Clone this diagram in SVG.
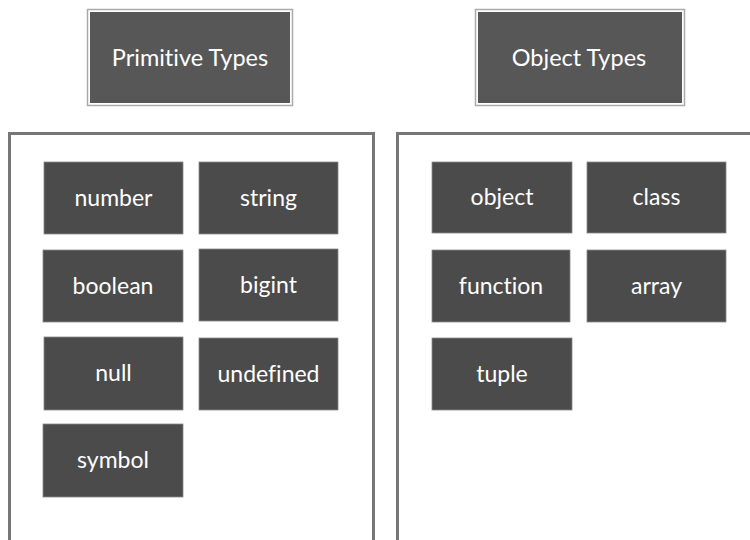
<svg xmlns="http://www.w3.org/2000/svg" width="750" height="540" viewBox="0 0 750 540">
<style>
.hdr-out{fill:#fff;stroke:#aaa;stroke-width:1.5}
.hdr{fill:#575757}
.hdr-t{fill:#fff;font-family:Lato,"Noto Sans",sans-serif;font-size:23.5px;text-anchor:middle;dominant-baseline:central;font-variant-ligatures:none}
.cont{fill:none;stroke:#777;stroke-width:3}
.box{fill:#4b4b4b;stroke:#888;stroke-width:0.8}
.t{fill:#fff;font-family:Lato,"Noto Sans",sans-serif;font-size:23px;text-anchor:middle;dominant-baseline:central;font-variant-ligatures:none}
</style>
<rect width="750" height="540" fill="#fff"/>
<g id="prim-header">
<rect class="hdr-out" x="87.5" y="9.5" width="205" height="96"/>
<rect class="hdr" x="90" y="12" width="200" height="91"/>
<text class="hdr-t" x="190" y="57">Primitive Types</text>
</g>
<g id="obj-header">
<rect class="hdr-out" x="475.5" y="9.5" width="209" height="96"/>
<rect class="hdr" x="478" y="12" width="204" height="91"/>
<text class="hdr-t" x="579" y="57">Object Types</text>
</g>
<g id="prim-container">
<path class="cont" d="M9.5 545 V133.5 H373.5 V545"/>
</g>
<g id="obj-container">
<path class="cont" d="M397.5 545 V133.5 H755"/>
</g>
<g id="number"><rect class="box" x="44" y="162" width="139" height="72"/><text class="t" x="113.5" y="197">number</text></g>
<g id="string"><rect class="box" x="199" y="162" width="139" height="72"/><text class="t" x="268.5" y="197">string</text></g>
<g id="boolean"><rect class="box" x="43" y="250" width="140" height="72"/><text class="t" x="113" y="285">boolean</text></g>
<g id="bigint"><rect class="box" x="199" y="249" width="139" height="72"/><text class="t" x="268.5" y="284">bigint</text></g>
<g id="null"><rect class="box" x="44" y="337" width="139" height="73"/><text class="t" x="113.5" y="372">null</text></g>
<g id="undefined"><rect class="box" x="199" y="338" width="139" height="72"/><text class="t" x="268.5" y="373">undefined</text></g>
<g id="symbol"><rect class="box" x="43" y="424" width="140" height="73"/><text class="t" x="113" y="459">symbol</text></g>
<g id="object"><rect class="box" x="432" y="162" width="140" height="71"/><text class="t" x="502" y="196">object</text></g>
<g id="class"><rect class="box" x="587" y="162" width="139" height="71"/><text class="t" x="656.5" y="196">class</text></g>
<g id="function"><rect class="box" x="432" y="250" width="138" height="72"/><text class="t" x="501" y="285">function</text></g>
<g id="array"><rect class="box" x="587" y="250" width="139" height="72"/><text class="t" x="656.5" y="285">array</text></g>
<g id="tuple"><rect class="box" x="432" y="338" width="140" height="72"/><text class="t" x="502" y="373">tuple</text></g>
<g id="connectors"></g>
</svg>
